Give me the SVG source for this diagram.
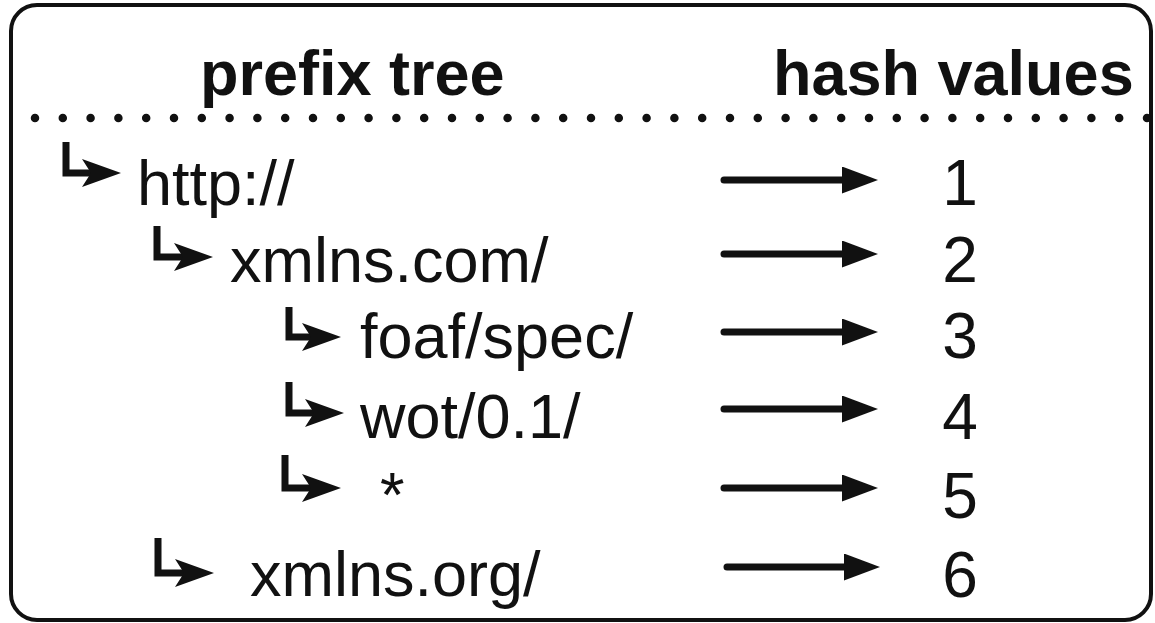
<svg xmlns="http://www.w3.org/2000/svg" width="1155" height="623" viewBox="0 0 1155 623">
  <style>
    .frame { fill: #ffffff; stroke: #111111; stroke-width: 4; }
    .sep { fill: none; stroke: #111111; stroke-width: 8.5; stroke-linecap: round; stroke-dasharray: 0 27.8; }
    .head { font-family: "Liberation Sans", Arial, sans-serif; font-weight: bold; font-size: 63px; fill: #111111; }
    .lbl { font-family: "Liberation Sans", Arial, sans-serif; font-size: 63px; fill: #111111; }
    .num { font-family: "Liberation Sans", Arial, sans-serif; font-size: 64px; fill: #111111; text-anchor: middle; }
    .bend { fill: none; stroke: #111111; stroke-width: 7; stroke-linejoin: miter; marker-end: url(#stealth); }
    .map { fill: none; stroke: #111111; stroke-width: 7; stroke-linecap: round; marker-end: url(#tri); }
  </style>
  <defs>
    <!-- barbed head for the tree branches -->
    <marker id="stealth" markerUnits="userSpaceOnUse" viewBox="0 0 39 28" refX="9" refY="14" markerWidth="39" markerHeight="28" orient="auto">
      <path d="M0,0 L39,14 L0,28 L9,14 Z" fill="#111111"/>
    </marker>
    <!-- plain triangle for the hash mapping arrows -->
    <marker id="tri" markerUnits="userSpaceOnUse" viewBox="0 0 36 27" refX="2" refY="13.5" markerWidth="36" markerHeight="27" orient="auto">
      <path d="M0,0 L36,13.5 L0,27 Z" fill="#111111"/>
    </marker>
  </defs>

  <rect width="1155" height="623" fill="#ffffff"/>
  <rect class="frame" x="11" y="5" width="1140" height="615" rx="26" ry="26"/>

  <!-- column headings -->
  <g id="headings">
    <text class="head" x="200" y="95">prefix tree</text>
    <text class="head" x="773" y="95">hash values</text>
  </g>
  <line class="sep" x1="35" y1="118" x2="1150" y2="118"/>

  <!-- prefix tree entries -->
  <g id="node-http">
    <text class="lbl" x="137" y="205">http://</text>
  </g>
  <g id="node-xmlns-com">
    <text class="lbl" x="230" y="282">xmlns.com/</text>
  </g>
  <g id="node-foaf">
    <text class="lbl" x="360" y="358">foaf/spec/</text>
  </g>
  <g id="node-wot">
    <text class="lbl" x="360" y="438">wot/0.1/</text>
  </g>
  <g id="node-star">
    <text class="lbl" x="380" y="516">*</text>
  </g>
  <g id="node-xmlns-org">
    <text class="lbl" x="250" y="596">xmlns.org/</text>
  </g>

  <!-- hash values -->
  <g id="hash-1"><text class="num" x="960" y="205">1</text></g>
  <g id="hash-2"><text class="num" x="960" y="282">2</text></g>
  <g id="hash-3"><text class="num" x="960" y="358">3</text></g>
  <g id="hash-4"><text class="num" x="960" y="439">4</text></g>
  <g id="hash-5"><text class="num" x="960" y="518">5</text></g>
  <g id="hash-6"><text class="num" x="960" y="597">6</text></g>

  <g id="connectors">
    <!-- tree branches -->
    <path class="bend" d="M66,142 V173 H91"/>
    <path class="bend" d="M157,226 V257 H183"/>
    <path class="bend" d="M289,307 V337 H311"/>
    <path class="bend" d="M289,382 V413 H314"/>
    <path class="bend" d="M285,455 V488 H311"/>
    <path class="bend" d="M158,538 V573 H184"/>
    <!-- prefix to hash mapping -->
    <line class="map" x1="724" y1="180" x2="844" y2="180"/>
    <line class="map" x1="724" y1="254" x2="844" y2="254"/>
    <line class="map" x1="724" y1="332" x2="844" y2="332"/>
    <line class="map" x1="724" y1="409" x2="844" y2="409"/>
    <line class="map" x1="724" y1="488" x2="844" y2="488"/>
    <line class="map" x1="727" y1="567" x2="846" y2="567"/>
  </g>
</svg>
